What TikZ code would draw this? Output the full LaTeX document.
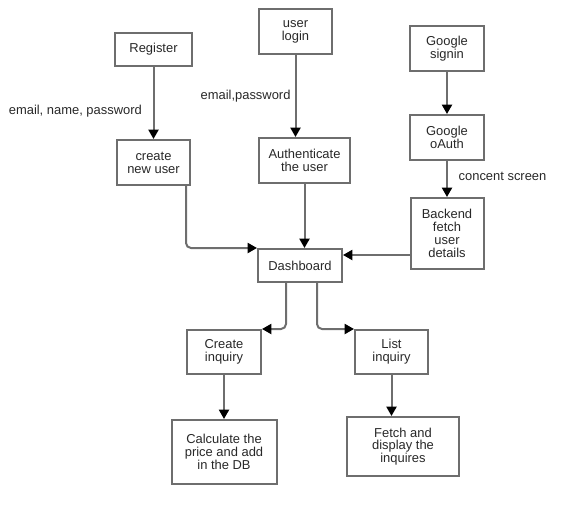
\documentclass[tikz,border=0pt]{standalone}
\usepackage{fontspec}
\setmainfont{Liberation Sans}
\usepackage{tikz}
\usetikzlibrary{positioning,arrows.meta}
\definecolor{linegray}{RGB}{110,110,110}
\definecolor{txtgray}{RGB}{40,40,40}

\begin{document}
\begin{tikzpicture}[
    x=0.75pt, y=-0.75pt,
    every node/.style={font=\fontsize{9.7}{9.6}\selectfont, align=center, text=txtgray},
    proc/.style={rectangle, draw=linegray, line width=1.5pt, inner sep=1pt,
                 minimum width=54.75pt, minimum height=33.75pt, fill=white},
    flow/.style={-{Triangle[length=7pt, width=7.5pt, color=black]}, draw=linegray, line width=1.5pt},
    elbow/.style={flow, rounded corners=3.75pt},
    edgelbl/.style={inner sep=1pt},
  ]
    \useasboundingbox (0,0) rectangle (585,522);

    \node[proc, minimum width=57.75pt, minimum height=24.75pt] (reg) at (153.5,49.5) {Register};
    \node[proc, below=54pt of reg]                              (newuser) {create\\new user};
    \node[proc]                                  (login)   at (295.5,31.5) {user\\login};
    \node[proc, minimum width=68.25pt]           (auth)    at (304.5,160.5) {Authenticate\\the user};
    \node[proc, minimum width=55.5pt]            (gsign)   at (447,48.5) {Google\\signin};
    \node[proc, minimum width=55.5pt, below=31.5pt of gsign]  (goauth)  {Google\\oAuth};
    \node[proc, minimum height=53.25pt, below=27pt of goauth] (backend) {Backend\\fetch\\user\\details};
    \node[proc, minimum width=63pt, minimum height=24.75pt] (dash) at (300,265.5) {Dashboard};
    \node[proc, minimum width=55.5pt, minimum height=33pt] (create) at (224,352) {Create\\inquiry};
    \node[proc, minimum height=33pt]             (list)    at (391.5,352) {List\\inquiry};
    \node[proc, minimum width=78.75pt, minimum height=48pt, below=33pt of create] (calc)
      {Calculate the\\price and add\\in the DB};
    \node[proc, minimum width=84pt, minimum height=44.25pt] (fetch) at (403,446.5)
      {Fetch and\\display the\\inquires};

    \coordinate (bkin) at ([yshift=-5.25pt]dash.north east);

    \draw[flow] (reg) -- node[edgelbl, left=7pt, pos=0.61] {email, name, password} (newuser);
    \draw[flow] (login.south) -- node[edgelbl, left=2pt] {email,password} (login.south |- auth.north);
    \draw[flow] (auth.south) -- (auth.south |- dash.north);
    \draw[flow] (gsign) -- (goauth);
    \draw[flow] (goauth) -- node[edgelbl, right=7pt, pos=0.44] {concent screen} (backend);
    \draw[flow] (backend.west |- bkin) -- (bkin);
    \draw[elbow] ([xshift=-3.75pt]newuser.south east) |- (dash.north west);
    \draw[elbow] ([xshift=-10.5pt]dash.south) |- (create.north east);
    \draw[elbow] ([xshift=12.75pt]dash.south) |- (list.north west);
    \draw[flow] (create) -- (calc);
    \draw[flow] (list.south) -- (list.south |- fetch.north);
  \end{tikzpicture}
\end{document}
